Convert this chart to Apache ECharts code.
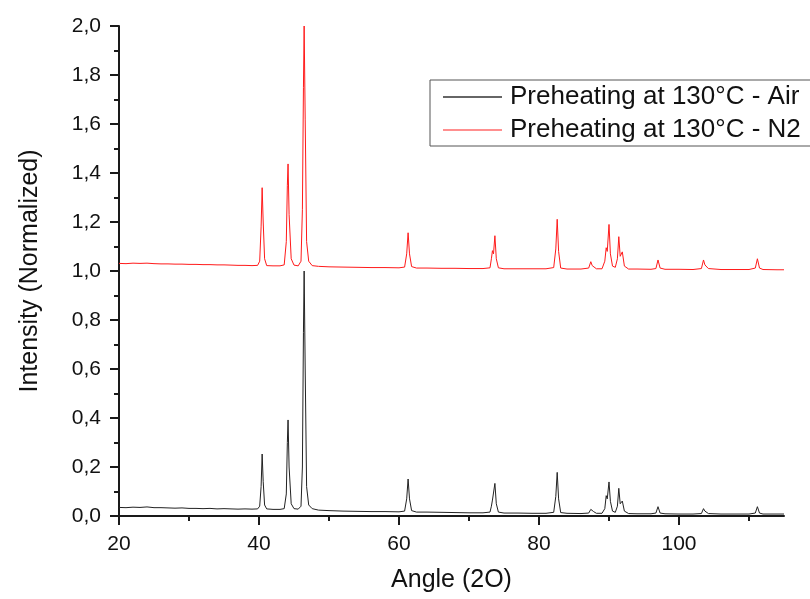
<!DOCTYPE html>
<html>
<head>
<meta charset="utf-8">
<script src="https://cdn.jsdelivr.net/npm/echarts@6/dist/echarts.min.js"></script>
<style>
html,body{margin:0;padding:0;background:#fff;}
#chart{width:810px;height:599px;}
</style>
</head>
<body>
<div id="chart"></div>
<script>
var angles = [
20, 21, 22, 23, 24, 25, 26, 27, 28, 29, 30, 31, 32, 33, 34, 35, 36, 37, 38, 39, 39.8,
40.1, 40.3, 40.45, 40.6, 40.8, 41.1, 42, 43, 43.6, 43.9, 44.05, 44.15, 44.3, 44.6, 45, 45.6,
46.0, 46.2, 46.35, 46.45, 46.6, 46.8, 47.1, 47.6, 48.5, 50, 52, 54, 56, 58, 60,
60.8, 61.1, 61.3, 61.5, 61.8, 62.5, 64, 66, 68, 70, 72,
73.0, 73.2, 73.35, 73.5, 73.7, 73.9, 74.2, 75, 77, 79, 81,
82.1, 82.4, 82.6, 82.8, 83.1, 84, 86,
87.1, 87.4, 87.6, 87.8, 88.2, 89.0, 89.4, 89.6, 89.75, 90.0, 90.2, 90.5, 90.9,
91.2, 91.4, 91.6, 91.9, 92.2, 92.8, 94, 96,
96.7, 97.0, 97.3, 98, 100, 102,
103.2, 103.5, 103.7, 103.9, 104.2, 106, 108, 110,
110.9, 111.2, 111.5, 112, 114, 115
];

var intensityAir = [
0.035, 0.034, 0.036, 0.035, 0.037, 0.034, 0.034, 0.033, 0.032, 0.033, 0.031, 0.031, 0.030, 0.031, 0.029, 0.030, 0.029, 0.028, 0.029, 0.028, 0.029,
0.040, 0.120, 0.253, 0.140, 0.045, 0.029, 0.027, 0.027, 0.030, 0.090, 0.300, 0.392, 0.200, 0.050, 0.030, 0.028,
0.040, 0.200, 0.750, 1.000, 0.600, 0.120, 0.045, 0.030, 0.024, 0.022, 0.020, 0.019, 0.018, 0.018, 0.017,
0.020, 0.070, 0.151, 0.070, 0.022, 0.016, 0.016, 0.015, 0.014, 0.013, 0.013,
0.016, 0.040, 0.065, 0.060, 0.133, 0.050, 0.016, 0.012, 0.012, 0.011, 0.011,
0.015, 0.080, 0.178, 0.070, 0.014, 0.011, 0.010,
0.012, 0.027, 0.020, 0.018, 0.011, 0.011, 0.030, 0.083, 0.070, 0.139, 0.060, 0.020, 0.015,
0.040, 0.113, 0.050, 0.061, 0.020, 0.010, 0.009, 0.009,
0.012, 0.038, 0.012, 0.009, 0.008, 0.008,
0.010, 0.030, 0.020, 0.024, 0.010, 0.008, 0.008, 0.008,
0.012, 0.038, 0.012, 0.008, 0.008, 0.008
];

var intensityN2 = [
1.031, 1.030, 1.032, 1.031, 1.032, 1.030, 1.029, 1.029, 1.028, 1.028, 1.027, 1.027, 1.026, 1.026, 1.025, 1.025, 1.024, 1.023, 1.023, 1.022, 1.023,
1.040, 1.180, 1.340, 1.200, 1.050, 1.022, 1.021, 1.021, 1.025, 1.120, 1.350, 1.437, 1.230, 1.050, 1.024, 1.021,
1.040, 1.250, 1.750, 2.000, 1.620, 1.120, 1.040, 1.022, 1.019, 1.017, 1.016, 1.015, 1.014, 1.014, 1.013,
1.016, 1.070, 1.156, 1.070, 1.018, 1.012, 1.012, 1.011, 1.011, 1.010, 1.010,
1.013, 1.050, 1.083, 1.070, 1.144, 1.050, 1.013, 1.009, 1.009, 1.009, 1.009,
1.014, 1.090, 1.211, 1.080, 1.012, 1.008, 1.008,
1.012, 1.038, 1.022, 1.025, 1.009, 1.009, 1.040, 1.095, 1.080, 1.190, 1.070, 1.020, 1.015,
1.050, 1.140, 1.060, 1.078, 1.020, 1.008, 1.008, 1.007,
1.010, 1.045, 1.012, 1.007, 1.007, 1.006,
1.010, 1.045, 1.025, 1.030, 1.010, 1.006, 1.006, 1.006,
1.012, 1.050, 1.012, 1.006, 1.005, 1.005
];

var seriesNames = ['Preheating at 130°C - Air', 'Preheating at 130°C - N2'];
var xMajorTicks = [20, 40, 60, 80, 100];
var xMinorTicks = [30, 50, 70, 90, 110];

function zip(xs, ys) {
  var out = [];
  for (var i = 0; i < xs.length; i++) out.push([xs[i], ys[i]]);
  return out;
}

var FONT = '"Liberation Sans", Arial, sans-serif';
var AX = '#1a1a1a';
var chart = echarts.init(document.getElementById('chart'), null, {renderer: 'canvas'});

chart.setOption({
  backgroundColor: '#ffffff',
  animation: false,
  textStyle: {fontFamily: FONT},
  grid: {left: 119, right: 26, top: 26, bottom: 83, containLabel: false},
  legend: {
    orient: 'vertical',
    left: 430,
    top: 80,
    data: [
      {name: seriesNames[0], icon: 'rect', itemStyle: {color: '#333333'}},
      {name: seriesNames[1], icon: 'rect', itemStyle: {color: '#ff6a6a'}}
    ],
    itemWidth: 59,
    itemHeight: 1.5,
    itemGap: 7,
    padding: [4, 10, 3, 13],
    borderColor: '#555555',
    borderWidth: 1,
    textStyle: {fontFamily: FONT, fontSize: 26, color: '#111', lineHeight: 26, padding: [0, 0, 0, 3]}
  },
  xAxis: [{
    type: 'value',
    min: 20,
    max: 115,
    name: 'Angle (2O)',
    nameLocation: 'middle',
    nameGap: 52,
    nameTextStyle: {fontFamily: FONT, fontSize: 25, color: '#111'},
    splitLine: {show: false},
    axisLine: {show: true, onZero: false, lineStyle: {color: AX, width: 2}},
    axisTick: {show: true, inside: false, length: 9, customValues: xMajorTicks, lineStyle: {color: AX, width: 2}},
    axisLabel: {customValues: xMajorTicks, fontFamily: FONT, fontSize: 21, color: '#111', margin: 18}
  }, {
    type: 'value',
    min: 20,
    max: 115,
    position: 'bottom',
    splitLine: {show: false},
    axisLine: {show: false},
    axisTick: {show: true, inside: false, length: 5, customValues: xMinorTicks, lineStyle: {color: AX, width: 2}},
    axisLabel: {show: false}
  }],
  yAxis: {
    type: 'value',
    min: 0,
    max: 2,
    interval: 0.2,
    name: 'Intensity (Normalized)',
    nameLocation: 'middle',
    nameGap: 76,
    nameTextStyle: {fontFamily: FONT, fontSize: 25, color: '#111'},
    splitLine: {show: false},
    axisLine: {show: true, onZero: false, lineStyle: {color: AX, width: 2}},
    axisTick: {show: true, inside: false, length: 9, lineStyle: {color: AX, width: 2}},
    minorTick: {show: true, splitNumber: 2, length: 5, lineStyle: {color: AX, width: 2}},
    axisLabel: {
      fontFamily: FONT, fontSize: 21, color: '#111', margin: 18,
      formatter: function (v) { return v.toFixed(1).replace('.', ','); }
    }
  },
  series: [{
    name: seriesNames[0],
    type: 'line',
    xAxisIndex: 0,
    symbol: 'none',
    showSymbol: false,
    lineStyle: {color: '#222222', width: 1},
    itemStyle: {color: '#222222'},
    data: zip(angles, intensityAir)
  }, {
    name: seriesNames[1],
    type: 'line',
    xAxisIndex: 0,
    symbol: 'none',
    showSymbol: false,
    lineStyle: {color: '#ff1a1a', width: 1},
    itemStyle: {color: '#ff1a1a'},
    data: zip(angles, intensityN2)
  }]
});
</script>
</body>
</html>
